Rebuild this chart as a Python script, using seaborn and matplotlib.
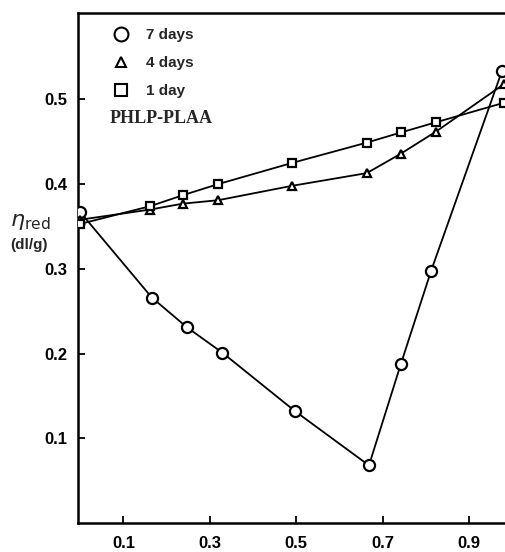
import matplotlib
matplotlib.use("Agg")
import matplotlib.pyplot as plt
from matplotlib.lines import Line2D
import seaborn as sns
import pandas as pd

sns.set_theme(style="white")
plt.rcParams["font.family"] = ["Liberation Sans", "DejaVu Sans"]

# Reduced viscosity vs. composition for three ageing times
x_7d = [0.0, 0.166, 0.247, 0.329, 0.497, 0.668, 0.742, 0.812, 0.976]
y_7d = [0.367, 0.266, 0.231, 0.201, 0.132, 0.068, 0.188, 0.298, 0.534]

x_4d = [0.0, 0.162, 0.238, 0.319, 0.490, 0.663, 0.742, 0.823, 0.980]
y_4d = [0.358, 0.370, 0.377, 0.381, 0.398, 0.413, 0.436, 0.462, 0.518]

x_1d = [0.0, 0.162, 0.238, 0.319, 0.490, 0.663, 0.742, 0.823, 0.980]
y_1d = [0.353, 0.374, 0.387, 0.400, 0.425, 0.449, 0.461, 0.473, 0.496]

series_names = ["7 days", "4 days", "1 day"]
x_ticks = [0.1, 0.3, 0.5, 0.7, 0.9]
x_tick_labels = ["0.1", "0.3", "0.5", "0.7", "0.9"]
y_ticks = [0.1, 0.2, 0.3, 0.4, 0.5]
y_tick_labels = ["0.1", "0.2", "0.3", "0.4", "0.5"]

df = pd.concat([
    pd.DataFrame({"x": x_7d, "y": y_7d, "series": series_names[0]}),
    pd.DataFrame({"x": x_4d, "y": y_4d, "series": series_names[1]}),
    pd.DataFrame({"x": x_1d, "y": y_1d, "series": series_names[2]}),
], ignore_index=True)

fig = plt.figure(figsize=(5.06, 5.52), dpi=100)
ax = fig.add_axes([78 / 506, 1 - 523 / 552, 1 - 78 / 506, (523 - 13) / 552])

markers = {"7 days": "o", "4 days": "^", "1 day": "s"}
sizes = {"7 days": 8, "4 days": 5.5, "1 day": 6}
for name in series_names:
    sub = df[df["series"] == name]
    sns.lineplot(data=sub, x="x", y="y", ax=ax, color="black", lw=1.3,
                 marker=markers[name], markersize=sizes[name],
                 markerfacecolor="white", markeredgecolor="black",
                 markeredgewidth=1.6, sort=False, legend=False, zorder=3)

ax.set_xlim(-0.005, 0.985)
ax.set_ylim(0, 0.602)
ax.set_xticks(x_ticks)
ax.set_xticklabels(x_tick_labels)
ax.set_yticks(y_ticks)
ax.set_yticklabels(y_tick_labels)
ax.tick_params(axis="both", direction="in", length=5, width=1.3, colors="black",
               labelsize=12)
ax.tick_params(axis="x", pad=9, bottom=True)
ax.tick_params(axis="y", pad=8, left=True)
for lab in ax.get_xticklabels() + ax.get_yticklabels():
    lab.set_fontweight("bold")
ax.set_xlabel("")
ax.set_ylabel("")
for side in ("left", "bottom", "top"):
    ax.spines[side].set_color("black")
    ax.spines[side].set_linewidth(1.8)
ax.spines["right"].set_visible(False)

# Legend with markers only
handles = [Line2D([], [], ls="none", marker=markers[n], markersize=sizes[n] + 2,
                  markerfacecolor="white", markeredgecolor="black",
                  markeredgewidth=1.5) for n in series_names]
leg = ax.legend(handles, series_names, loc="upper left", frameon=False,
                bbox_to_anchor=(0.04, 0.997), handletextpad=0.8,
                handlelength=1.6, labelspacing=0.92,
                prop={"weight": "bold", "size": 11})
ax.text(0.075, 0.794, "PHLP-PLAA", transform=ax.transAxes,
        family=["Liberation Serif", "DejaVu Serif"], fontweight="bold",
        fontsize=13, ha="left", va="center")

# Y-axis quantity
fig.text(10 / 506, 1 - 221 / 552, r"$\eta_{\mathrm{red}}$", fontsize=16,
         ha="left", va="center")
fig.text(10 / 506, 1 - 245 / 552, "(dl/g)", fontsize=11, fontweight="bold",
         ha="left", va="center")

fig.savefig("out.png", dpi=100)
